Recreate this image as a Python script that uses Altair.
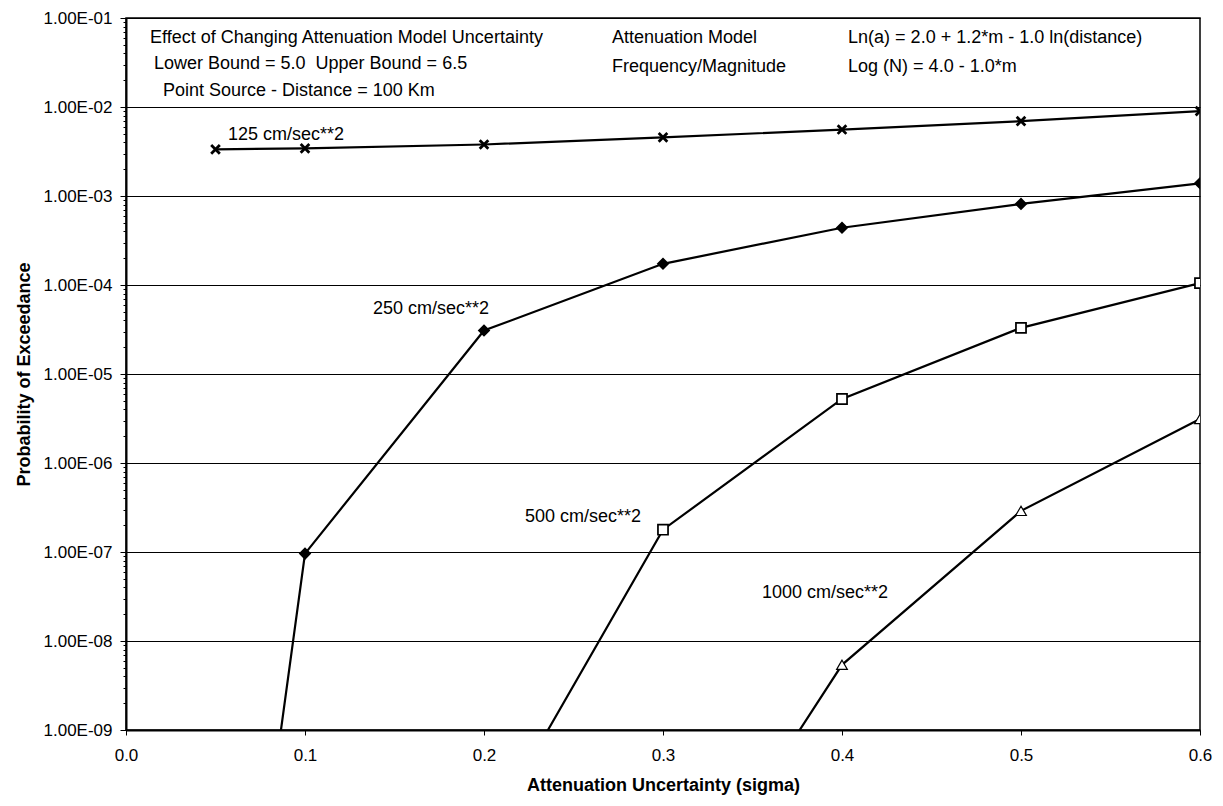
import altair as alt
import pandas as pd

# ---- data ----
series_names = ["125 cm/sec**2", "250 cm/sec**2", "500 cm/sec**2", "1000 cm/sec**2"]
sigma_125 = [0.05, 0.1, 0.2, 0.3, 0.4, 0.5, 0.6]
prob_125 = [3.34e-3, 3.43e-3, 3.79e-3, 4.55e-3, 5.58e-3, 6.93e-3, 9.0e-3]
sigma_250 = [0.05, 0.1, 0.2, 0.3, 0.4, 0.5, 0.6]
prob_250 = [4.0e-15, 9.6e-8, 3.08e-5, 1.73e-4, 4.4e-4, 8.15e-4, 1.39e-3]
sigma_500 = [0.2, 0.3, 0.4, 0.5, 0.6]
prob_500 = [5.6e-11, 1.78e-7, 5.24e-6, 3.3e-5, 1.05e-4]
sigma_1000 = [0.3, 0.4, 0.5, 0.6]
prob_1000 = [4.3e-12, 5.4e-9, 2.9e-7, 3.13e-6]

# annotation texts (placed in data coordinates)
NB = "\u00a0"
note_text = [
    "Effect of Changing Attenuation Model Uncertainty",
    "Lower Bound = 5.0 " + NB + "Upper Bound = 6.5",
    "Point Source - Distance = 100 Km",
    "Attenuation Model",
    "Ln(a) = 2.0 + 1.2*m - 1.0 ln(distance)",
    "Frequency/Magnitude",
    "Log (N) = 4.0 - 1.0*m",
    "125 cm/sec**2",
    "250 cm/sec**2",
    "500 cm/sec**2",
    "1000 cm/sec**2",
]
note_x = [0.0134, 0.0156, 0.0207, 0.2715, 0.4034, 0.2715, 0.4034, 0.057, 0.138, 0.2229, 0.3553]
note_y = [0.0597, 0.0305, 0.01524, 0.0597, 0.0597, 0.0283, 0.0283, 4.79e-3, 5.42e-5, 2.49e-7, 3.43e-8]

x_ticks = [0.0, 0.1, 0.2, 0.3, 0.4, 0.5, 0.6]
decades = [1e-1, 1e-2, 1e-3, 1e-4, 1e-5, 1e-6, 1e-7, 1e-8, 1e-9]
minor = [m * d for d in decades[1:] for m in range(2, 10)]
y_ticks = decades + minor

rows = []
for name, xs, ys in [
    (series_names[0], sigma_125, prob_125),
    (series_names[1], sigma_250, prob_250),
    (series_names[2], sigma_500, prob_500),
    (series_names[3], sigma_1000, prob_1000),
]:
    for xv, yv in zip(xs, ys):
        rows.append({"series": name, "sigma": xv, "prob": yv})
df = pd.DataFrame(rows)
notes = pd.DataFrame({"text": note_text, "x": note_x, "y": note_y})

FONT = "Liberation Sans"
FS_TICK = 17
FS = 18
is_decade = "abs(log(datum.value)/LN10 - round(log(datum.value)/LN10)) < 0.001"
X_MARK = "M-1,-1L1,1M1,-1L-1,1"

x_enc = alt.X(
    "sigma:Q",
    scale=alt.Scale(domain=[0, 0.6], nice=False, zero=False),
    axis=alt.Axis(
        values=x_ticks, format=".1f", grid=False, title="Attenuation Uncertainty (sigma)",
        labelFontSize=FS_TICK, labelFont=FONT, labelColor="black", labelPadding=12, tickSize=5,
        labelFlush=False,
        tickColor="black", domainColor="black", domainWidth=2,
        titleFontSize=FS, titleFont=FONT, titleFontWeight="bold", titlePadding=13, titleColor="black",
    ),
)
y_scale = alt.Scale(type="log", domain=[1e-9, 1e-1], nice=False)
y_enc = alt.Y(
    "prob:Q",
    scale=y_scale,
    axis=alt.Axis(
        values=y_ticks,
        labelExpr=f"{is_decade} ? '1.00E-0' + toString(-round(log(datum.value)/LN10)) : ''",
        labelOverlap=False, labelBound=False, labelFlush=False,
        labelFontSize=FS_TICK, labelFont=FONT, labelColor="black", labelPadding=8,
        tickColor="black",
        tickSize={"condition": {"test": is_decade, "value": 6}, "value": 3},
        gridColor="black",
        gridOpacity={"condition": {"test": is_decade, "value": 1}, "value": 0},
        gridWidth=1,
        domainColor="black", domainWidth=2,
        title="Probability of Exceedance", titleFontSize=FS, titleFont=FONT,
        titleFontWeight="bold", titleColor="black", titlePadding=10,
    ),
)

lines = alt.Chart(df).mark_line(color="black", strokeWidth=2.2, clip=True).encode(
    x=x_enc, y=y_enc, detail="series:N", order="sigma:Q"
)

points = alt.Chart(df).mark_point(clip=True, opacity=1, stroke="black").encode(
    x="sigma:Q",
    y="prob:Q",
    shape=alt.Shape("series:N", scale=alt.Scale(domain=series_names,
                    range=[X_MARK, "diamond", "square", "triangle-up"]), legend=None),
    fill=alt.Fill("series:N", scale=alt.Scale(domain=series_names,
                  range=["transparent", "black", "white", "white"]), legend=None),
    size=alt.Size("series:N", scale=alt.Scale(domain=series_names,
                  range=[75, 115, 80, 85]), legend=None),
    strokeWidth=alt.StrokeWidth("series:N", scale=alt.Scale(domain=series_names,
                  range=[2.8, 1.2, 1.8, 1.8]), legend=None),
)

texts = alt.Chart(notes).mark_text(align="left", baseline="middle", fontSize=FS, font=FONT, color="black").encode(
    x="x:Q", y="y:Q", text="text:N"
)

chart = alt.layer(lines, points, texts).properties(
    width=1074, height=712,
    padding={"left": 118, "top": 10, "right": 15, "bottom": 68},
    autosize="none",
    background="white",
).configure_view(stroke="black", strokeWidth=1.5)

chart.save("out.html", embed_options={"renderer": "svg", "actions": False})
